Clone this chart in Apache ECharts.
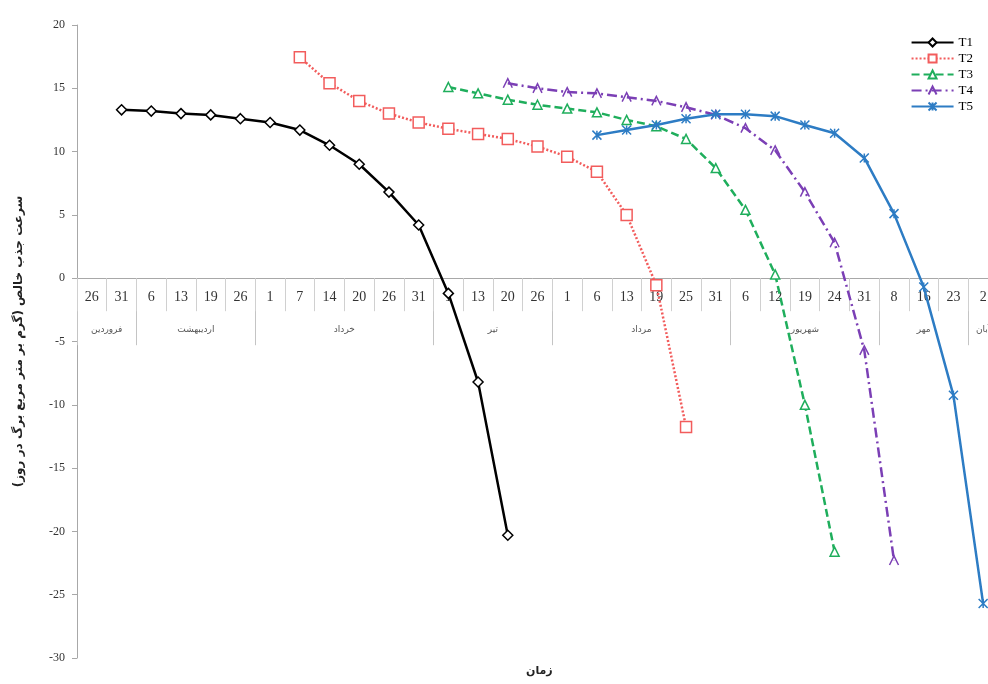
<!DOCTYPE html>
<html>
<head>
<meta charset="utf-8">
<style>
  html, body { margin: 0; padding: 0; background: #fff; }
  #main { width: 988px; height: 684px; }
</style>
<script src="https://cdn.jsdelivr.net/npm/echarts@6/dist/echarts.min.js"></script>
</head>
<body>
<div id="main"></div>
<script>
// --- data ---
const dayLabels = ['26', '31', '6', '13', '19', '26', '1', '7', '14', '20', '26', '31',
  '1', '13', '20', '26', '1', '6', '13', '19', '25', '31', '6', '12', '19', '24', '31',
  '8', '16', '23', '2'];
const monthNames = ['فروردین', 'اردیبهشت', 'خرداد', 'تیر', 'مرداد', 'شهریور', 'مهر', 'آبان'];
const monthLengths = [2, 4, 6, 4, 6, 5, 3, 1];

const seriesNames = ['T1', 'T2', 'T3', 'T4', 'T5'];
const seriesStart = [1, 7, 12, 14, 17];   // index of first sampled date
const t1 = [13.3, 13.2, 13.0, 12.9, 12.6, 12.3, 11.7, 10.5, 9.0, 6.8, 4.2, -1.2, -8.2, -20.3];
const t2 = [17.45, 15.4, 14.0, 13.0, 12.3, 11.8, 11.4, 11.0, 10.4, 9.6, 8.4, 5.0, -0.55, -11.75];
const t3 = [15.1, 14.6, 14.1, 13.7, 13.4, 13.1, 12.5, 12.0, 11.0, 8.7, 5.4, 0.3, -10.0, -21.6];
const t4 = [15.4, 15.0, 14.7, 14.6, 14.3, 14.0, 13.5, 12.9, 11.85, 10.1, 6.8, 2.8, -5.7, -22.3];
const t5 = [11.3, 11.7, 12.1, 12.6, 12.95, 12.95, 12.8, 12.1, 11.45, 9.5, 5.1, -0.7, -9.25, -25.7];

const yTicks = { min: -30, max: 20, step: 5 };

// --- helpers ---
function padSeries(values, start) {
  const out = dayLabels.map(() => '-');
  values.forEach((v, i) => { out[start + i] = v; });
  return out;
}

// month boundaries (category index) and label centres
const monthStarts = [];
const monthMids = {};
let acc = 0;
monthLengths.forEach((len, i) => {
  monthStarts.push(acc);
  monthMids[(acc + len / 2).toFixed(1)] = monthNames[i];
  acc += len;
});

const serif = '"Liberation Serif", "DejaVu Serif", "DejaVu Sans", serif';
const farsi = '"DejaVu Sans", "Noto Sans", sans-serif';

const styles = [
  { color: '#000000', type: 'solid', symbol: 'diamond', size: 10, fill: '#ffffff' },
  { color: '#f25c5c', type: [2, 2], symbol: 'rect', size: 11, fill: '#ffffff' },
  { color: '#1fae5c', type: [8, 4], symbol: 'triangle', size: 9, fill: '#ffffff' },
  { color: '#7b3fb5', type: [10, 4, 2, 4], symbol: 'path://M0,10 L5,0 L10,10', size: 9, fill: 'rgba(0,0,0,0)' },
  { color: '#2d7cc4', type: 'solid', symbol: 'path://M0,0 L10,10 M10,0 L0,10 M5,0 L5,10', size: 9, fill: 'rgba(0,0,0,0)' }
];
const allValues = [t1, t2, t3, t4, t5];

const chart = echarts.init(document.getElementById('main'));

function buildOption(zeroOffset) {
  return {
    backgroundColor: '#ffffff',
    animation: false,
    title: {
      text: 'زمان',
      left: 521,
      bottom: 2,
      textStyle: { fontFamily: farsi, fontSize: 11, fontWeight: 'bold', color: '#222' }
    },
    legend: {
      data: seriesNames,
      orient: 'vertical',
      right: 10,
      top: 31,
      align: 'left',
      itemWidth: 42,
      itemHeight: 10,
      itemGap: 3,
      textStyle: { fontFamily: serif, fontSize: 13, color: '#000' }
    },
    grid: {
      left: 77,
      right: -10,
      top: 25,
      bottom: 26,
      outerBoundsMode: 'none',
      containLabel: false
    },
    xAxis: [
      {
        // روزها
        type: 'category',
        data: dayLabels,
        boundaryGap: true,
        position: 'bottom',
        offset: zeroOffset,
        axisLine: { onZero: false, lineStyle: { color: '#a8a8a8', width: 1 } },
        axisTick: { show: true, interval: 0, length: 33, lineStyle: { color: '#d0d0d0' } },
        axisLabel: { interval: 0, margin: 12, fontFamily: serif, fontSize: 14, color: '#333' },
        splitLine: { show: false },
        z: 1
      },
      {
        // مرز ماه‌ها
        type: 'category',
        data: dayLabels,
        boundaryGap: true,
        position: 'bottom',
        offset: zeroOffset,
        axisLine: { show: false, onZero: false },
        axisTick: {
          show: true,
          length: 67,
          interval: (index) => monthStarts.indexOf(index) >= 0,
          lineStyle: { color: '#c4c4c4' }
        },
        axisLabel: { show: false },
        splitLine: { show: false }
      },
      {
        // نام ماه‌ها
        type: 'value',
        min: 0,
        max: dayLabels.length,
        interval: 0.5,
        position: 'bottom',
        offset: zeroOffset,
        axisLine: { show: false, onZero: false },
        axisTick: { show: false },
        splitLine: { show: false },
        axisLabel: {
          margin: 47,
          fontFamily: farsi,
          fontSize: 9,
          color: '#555',
          showMinLabel: true,
          showMaxLabel: true,
          formatter: (v) => monthMids[Number(v).toFixed(1)] || ''
        }
      }
    ],
    yAxis: {
      type: 'value',
      min: yTicks.min,
      max: yTicks.max,
      interval: yTicks.step,
      name: 'سرعت جذب خالص (گرم بر متر مربع برگ در روز)\u200F',
      nameLocation: 'middle',
      nameGap: 52,
      nameTextStyle: { fontFamily: farsi, fontSize: 12, fontWeight: 'bold', color: '#222' },
      axisLine: { show: true, onZero: false, lineStyle: { color: '#a8a8a8' } },
      axisTick: { show: true, length: 5, lineStyle: { color: '#a8a8a8' } },
      axisLabel: { margin: 12, fontFamily: serif, fontSize: 12, color: '#333' },
      splitLine: { show: false }
    },
    series: seriesNames.map((name, i) => ({
      name: name,
      type: 'line',
      xAxisIndex: 0,
      data: padSeries(allValues[i], seriesStart[i]),
      symbol: styles[i].symbol,
      symbolSize: styles[i].size,
      showAllSymbol: true,
      smooth: false,
      lineStyle: { color: styles[i].color, width: 2.5, type: styles[i].type },
      itemStyle: { color: styles[i].fill, borderColor: styles[i].color, borderWidth: 1.5 },
      emphasis: { disabled: true },
      z: 3 + i
    }))
  };
}

// first pass, then move the x axes up onto y = 0 using the y scale
chart.setOption(buildOption(0));
const zeroY = chart.convertToPixel({ yAxisIndex: 0 }, 0);
const bottomY = chart.convertToPixel({ yAxisIndex: 0 }, yTicks.min);
chart.setOption(buildOption(zeroY - bottomY));
</script>
</body>
</html>
